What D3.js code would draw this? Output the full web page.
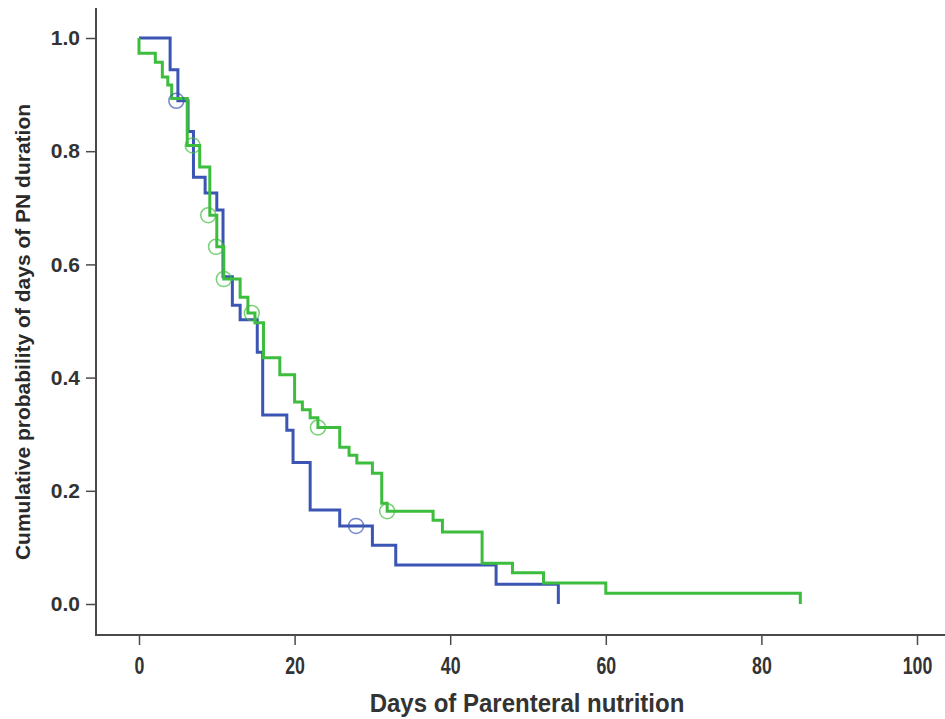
<!DOCTYPE html>
<html>
<head>
<meta charset="utf-8">
<script src="https://cdn.jsdelivr.net/npm/d3@7"></script>
<style>
  html, body { margin: 0; padding: 0; background: #fff; }
  svg { display: block; }
</style>
</head>
<body>
<svg id="chart" width="945" height="719"></svg>
<script>
// ---- data ----
const blueTimes = [0, 4.0, 5.0, 6.3, 7.0, 8.5, 10.0, 10.8, 12.0, 13.0, 15.2, 15.9, 19.0, 19.8, 22.0, 25.8, 30.0, 33.0, 45.9, 53.9];
const blueSurv  = [1.0, 0.944, 0.889, 0.835, 0.754, 0.726, 0.696, 0.578, 0.528, 0.502, 0.445, 0.334, 0.307, 0.250, 0.166, 0.138, 0.104, 0.069, 0.035, 0.0];
const blueCensorTimes = [4.8, 27.9];
const blueCensorSurv  = [0.889, 0.138];

const greenTimes = [0, 0, 2.1, 3.0, 3.7, 4.2, 6.2, 7.8, 9.1, 10.0, 10.9, 13.0, 14.0, 14.9, 16.0, 18.1, 20.0, 21.0, 22.0, 23.0, 25.8, 27.0, 28.0, 30.0, 31.2, 31.9, 37.8, 39.0, 44.1, 48.0, 52.0, 60.0, 85.0];
const greenSurv  = [1.0, 0.973, 0.957, 0.931, 0.917, 0.893, 0.810, 0.772, 0.687, 0.631, 0.574, 0.542, 0.514, 0.497, 0.435, 0.405, 0.357, 0.343, 0.329, 0.312, 0.277, 0.263, 0.249, 0.231, 0.178, 0.164, 0.148, 0.127, 0.072, 0.055, 0.037, 0.019, 0.0];
const greenCensorTimes = [6.9, 8.9, 9.9, 10.9, 14.5, 23.0, 31.9];
const greenCensorSurv  = [0.810, 0.687, 0.631, 0.574, 0.514, 0.312, 0.164];

const xTicks = [0, 20, 40, 60, 80, 100];
const yTicks = [0, 0.2, 0.4, 0.6, 0.8, 1.0];

const xTitle = "Days of Parenteral nutrition";
const yTitle = "Cumulative probability of days of PN duration";

// ---- chart ----
const svg = d3.select("#chart");
const x = d3.scaleLinear().domain([0, 100]).range([139, 917]);
const y = d3.scaleLinear().domain([0, 1]).range([604, 38]);

const axisColor = "#4a4a4a";
const blue = "#3a55b4";
const green = "#3dbd3d";
const font = "'Liberation Sans', Arial, sans-serif";

// axes
const xAxisY = 635, yAxisX = 96;
const gx = svg.append("g").attr("transform", `translate(0,${xAxisY})`)
  .call(d3.axisBottom(x).tickValues(xTicks).tickSize(10).tickSizeOuter(0).tickFormat(d3.format("d")));
const gy = svg.append("g").attr("transform", `translate(${yAxisX},0)`)
  .call(d3.axisLeft(y).tickValues(yTicks).tickSize(10).tickSizeOuter(0).tickFormat(d3.format(".1f")));

gx.select(".domain").remove();
gy.select(".domain").remove();
svg.append("line").attr("x1", yAxisX).attr("x2", 945).attr("y1", xAxisY).attr("y2", xAxisY)
  .attr("stroke", axisColor).attr("stroke-width", 2);
svg.append("line").attr("x1", yAxisX).attr("x2", yAxisX).attr("y1", 8).attr("y2", xAxisY + 1)
  .attr("stroke", axisColor).attr("stroke-width", 2);

[gx, gy].forEach(g => {
  g.selectAll(".tick line").attr("stroke", axisColor).attr("stroke-width", 1.5);
  g.selectAll(".tick text").attr("fill", "#333").style("font-family", font).style("font-weight", "bold");
});
gx.selectAll(".tick text").attr("dy", "0").attr("y", 39).attr("transform", "scale(0.74,1)")
  .style("font-size", "24px");
gy.selectAll(".tick text").attr("x", -16).style("font-size", "21px");

// titles
svg.append("text").attr("transform", "translate(527,712) scale(0.96,1)").attr("text-anchor", "middle")
  .style("font-family", font).style("font-size", "25px").style("font-weight", "bold")
  .attr("fill", "#333").text(xTitle);
svg.append("text").attr("transform", "translate(30,332) rotate(-90)").attr("text-anchor", "middle")
  .style("font-family", font).style("font-size", "21px")
  .style("font-weight", "bold").attr("fill", "#2a2a2a").text(yTitle);

// curves
const line = d3.line().x(d => x(d[0])).y(d => y(d[1])).curve(d3.curveStepAfter);
function drawCurve(times, surv, color) {
  const pts = times.map((t, i) => [t, surv[i]]);
  svg.append("path").datum(pts).attr("d", line)
    .attr("fill", "none").attr("stroke", color).attr("stroke-width", 3);
}
function drawCensors(times, surv, color) {
  svg.append("g").selectAll("circle").data(times.map((t, i) => [t, surv[i]])).join("circle")
    .attr("cx", d => x(d[0])).attr("cy", d => y(d[1])).attr("r", 7.5)
    .attr("fill", "none").attr("stroke", color).attr("stroke-width", 1.5).attr("stroke-opacity", 0.7);
}
drawCurve(blueTimes, blueSurv, blue);
drawCurve(greenTimes, greenSurv, green);
drawCensors(blueCensorTimes, blueCensorSurv, blue);
drawCensors(greenCensorTimes, greenCensorSurv, green);
</script>
</body>
</html>
